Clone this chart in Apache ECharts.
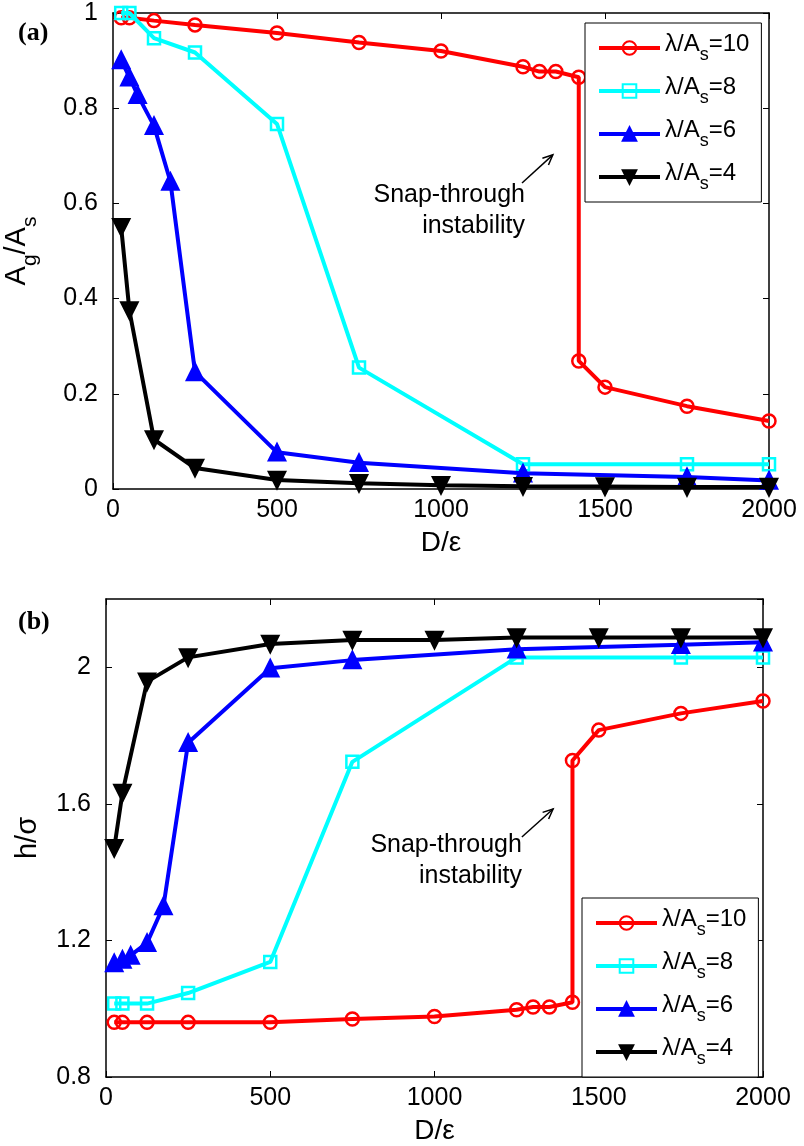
<!DOCTYPE html>
<html>
<head>
<meta charset="utf-8">
<script src="https://cdn.jsdelivr.net/npm/echarts@6/dist/echarts.min.js"></script>
<style>
  html, body { margin: 0; padding: 0; background: #fff; }
  #chart { width: 804px; height: 1146px; }
</style>
</head>
<body>
<div id="chart"></div>
<script>
// Film/substrate simulations: (a) contact area ratio Ag/As and (b) gap h/sigma vs D/epsilon
const seriesNames = ['λ/As=10', 'λ/As=8', 'λ/As=6', 'λ/As=4'];
const xTicks = [0, 500, 1000, 1500, 2000];
const aTicks = [0, 0.2, 0.4, 0.6, 0.8, 1];
const hTicks = [0.8, 1.2, 1.6, 2];

// D/epsilon sample points for each wavelength ratio
const dRed = [25, 50, 125, 250, 500, 750, 1000, 1250, 1300, 1350, 1420, 1420, 1500, 1750, 2000];
const dCyan = [25, 50, 125, 250, 500, 750, 1250, 1750, 2000];
const dBlue = [25, 50, 75, 125, 175, 250, 500, 750, 1250, 1750, 2000];
const dBlack = [25, 50, 125, 250, 500, 750, 1000, 1250, 1500, 1750, 2000];

// (a) Ag/As
const aRed = [0.99, 0.99, 0.984, 0.975, 0.958, 0.938, 0.920, 0.887, 0.877, 0.877, 0.865, 0.269, 0.214, 0.174, 0.143];
const aCyan = [1.0, 1.0, 0.947, 0.917, 0.767, 0.255, 0.052, 0.052, 0.052];
const aBlue = [0.901, 0.865, 0.828, 0.763, 0.646, 0.246, 0.077, 0.055, 0.033, 0.025, 0.018];
const aBlack = [0.55, 0.375, 0.104, 0.044, 0.019, 0.012, 0.008, 0.006, 0.005, 0.004, 0.004];

// (b) h/sigma
const hRed = [0.960, 0.960, 0.960, 0.960, 0.960, 0.970, 0.977, 0.997, 1.005, 1.005, 1.019, 1.727, 1.816, 1.865, 1.901];
const hCyan = [1.015, 1.015, 1.015, 1.046, 1.137, 1.723, 2.029, 2.029, 2.029];
const hBlue = [1.134, 1.144, 1.156, 1.193, 1.301, 1.779, 1.997, 2.021, 2.053, 2.066, 2.073];
const hBlack = [1.47, 1.632, 1.958, 2.029, 2.068, 2.080, 2.080, 2.087, 2.087, 2.087, 2.087];

// annotation anchors in data space: [text anchor, arrow tail, arrow tip]
const noteA = [[1256, 0.584], [1247, 0.643], [1341, 0.702]];
const noteB = [[1266, 1.435], [1266, 1.503], [1361, 1.585]];

const FONT = "'Liberation Sans', Arial, sans-serif";
const zip = (xs, ys) => xs.map((x, i) => [x, ys[i]]);

const styles = [
  { color: '#ff0000', symbol: 'circle', size: 13, fill: 'rgba(0,0,0,0)' },
  { color: '#00ffff', symbol: 'rect', size: 12, fill: 'rgba(0,0,0,0)' },
  { color: '#0000ff', symbol: 'triangle', size: 16, fill: '#0000ff' },
  { color: '#000000', symbol: 'path://M0,0 L10,0 L5,9 Z', size: 16, fill: '#000000' }
];

function makeSeries(idx, xs, ys, axisIdx) {
  const s = styles[idx];
  return {
    type: 'line',
    name: seriesNames[idx],
    xAxisIndex: axisIdx,
    yAxisIndex: axisIdx,
    data: zip(xs, ys),
    symbol: s.symbol,
    symbolSize: s.size,
    showAllSymbol: true,
    animation: false,
    color: s.color,
    lineStyle: { color: s.color, width: 4 },
    itemStyle: { color: s.fill, borderColor: s.color, borderWidth: 2.5 },
    emphasis: { disabled: true },
    z: 2 + idx
  };
}

const tickStyle = { show: true, inside: true, length: 6, lineStyle: { color: '#000', width: 1 } };
const lineStyleAx = { show: true, onZero: false, lineStyle: { color: '#000', width: 1.5 } };
const labelStyle = { color: '#000', fontSize: 25, fontFamily: FONT };

function xAxisPair(gridIndex) {
  return [
    {
      type: 'value', gridIndex, position: 'bottom', min: xTicks[0], max: xTicks[xTicks.length - 1],
      interval: xTicks[1] - xTicks[0],
      axisLine: lineStyleAx, axisTick: tickStyle, splitLine: { show: false },
      axisLabel: Object.assign({ margin: 9, formatter: v => String(v) }, labelStyle),
      name: 'D/ε', nameLocation: 'middle', nameGap: 40,
      nameTextStyle: { color: '#000', fontSize: 28, fontFamily: FONT }
    },
    {
      type: 'value', gridIndex, position: 'top', min: xTicks[0], max: xTicks[xTicks.length - 1],
      interval: xTicks[1] - xTicks[0],
      axisLine: lineStyleAx, axisTick: tickStyle, splitLine: { show: false },
      axisLabel: { show: false }
    }
  ];
}

function yAxisPair(gridIndex, ticks, maxV, name, nameGap, rich) {
  const common = {
    type: 'value', gridIndex, min: ticks[0], max: maxV, interval: ticks[1] - ticks[0],
    axisLine: lineStyleAx, axisTick: tickStyle, splitLine: { show: false }
  };
  return [
    Object.assign({}, common, {
      position: 'left',
      axisLabel: Object.assign({ margin: 15, showMaxLabel: ticks[ticks.length - 1] === maxV,
        formatter: v => String(+v.toFixed(2)) }, labelStyle),
      name, nameLocation: 'middle', nameGap,
      nameTextStyle: { color: '#000', fontSize: 29, fontFamily: FONT, rich }
    }),
    Object.assign({}, common, { position: 'right', axisLabel: { show: false } })
  ];
}

const subRich = {
  m: { fontSize: 29, fontFamily: FONT, color: '#000', padding: [0, 0, 10, 0], verticalAlign: 'bottom' },
  s: { fontSize: 21, fontFamily: FONT, color: '#000', verticalAlign: 'bottom' }
};

const legendRich = {
  m: { fontSize: 24, fontFamily: FONT, color: '#000', padding: [0, 0, 8, 0], verticalAlign: 'bottom' },
  s: { fontSize: 18, fontFamily: FONT, color: '#000', verticalAlign: 'bottom' }
};

function legendAt(left, top) {
  return {
    left, top, orient: 'vertical',
    data: seriesNames,
    backgroundColor: '#fff', borderColor: '#000', borderWidth: 1,
    padding: [9, 12, 9, 12],
    itemWidth: 61, itemHeight: 17, itemGap: 11,
    selectedMode: false,
    lineStyle: { width: 4 },
    textStyle: { fontSize: 24, fontFamily: FONT, color: '#000', rich: legendRich },
    formatter: name => '{m|λ/A}{s|s}{m|=' + name.split('=')[1] + '}'
  };
}

const chart = echarts.init(document.getElementById('chart'), null, { renderer: 'canvas' });

chart.setOption({
  backgroundColor: '#fff',
  animation: false,
  grid: [
    { left: 113, top: 13, width: 656, height: 476, outerBoundsMode: 'none', containLabel: false },
    { left: 106, top: 599, width: 657, height: 478, outerBoundsMode: 'none', containLabel: false }
  ],
  xAxis: [...xAxisPair(0), ...xAxisPair(1)],
  yAxis: [
    ...yAxisPair(0, aTicks, 1, '{m|A}{s|g}{m|/A}{s|s}', 72, subRich),
    ...yAxisPair(1, hTicks, 2.2, 'h/σ', 64, undefined)
  ],
  legend: [legendAt(585, 23), legendAt(582, 898)],
  series: [
    makeSeries(0, dRed, aRed, 0),
    makeSeries(1, dCyan, aCyan, 0),
    makeSeries(2, dBlue, aBlue, 0),
    makeSeries(3, dBlack, aBlack, 0),
    makeSeries(0, dRed, hRed, 2),
    makeSeries(1, dCyan, hCyan, 2),
    makeSeries(2, dBlue, hBlue, 2),
    makeSeries(3, dBlack, hBlack, 2)
  ]
});

// annotations: "Snap-through instability" text with an open arrow, placed in data space
function annotation(note, seriesIndex) {
  const t = chart.convertToPixel({ seriesIndex }, note[0]);
  const a = chart.convertToPixel({ seriesIndex }, note[1]);
  const b = chart.convertToPixel({ seriesIndex }, note[2]);
  const ang = Math.atan2(b[1] - a[1], b[0] - a[0]);
  const hl = 11, spread = 0.42;
  const h1 = [b[0] - hl * Math.cos(ang - spread), b[1] - hl * Math.sin(ang - spread)];
  const h2 = [b[0] - hl * Math.cos(ang + spread), b[1] - hl * Math.sin(ang + spread)];
  return [
    {
      type: 'text', x: t[0], y: t[1], z: 50,
      style: {
        text: 'Snap-through\ninstability', align: 'right', verticalAlign: 'middle',
        fontSize: 25, fontFamily: FONT, fill: '#000', lineHeight: 31
      }
    },
    { type: 'line', z: 50, shape: { x1: a[0], y1: a[1], x2: b[0], y2: b[1] }, style: { stroke: '#000', lineWidth: 1.5 } },
    { type: 'polyline', z: 50, shape: { points: [h1, b, h2] }, style: { stroke: '#000', lineWidth: 1.5, fill: null } }
  ];
}

chart.setOption({
  graphic: [
    { type: 'text', left: 18, top: 20, style: { text: '(a)', fontSize: 26, fontWeight: 'bold', fontFamily: "'Liberation Serif', 'Times New Roman', serif", fill: '#000' } },
    { type: 'text', left: 18, top: 609, style: { text: '(b)', fontSize: 26, fontWeight: 'bold', fontFamily: "'Liberation Serif', 'Times New Roman', serif", fill: '#000' } },
    ...annotation(noteA, 0),
    ...annotation(noteB, 4)
  ]
});
</script>
</body>
</html>
